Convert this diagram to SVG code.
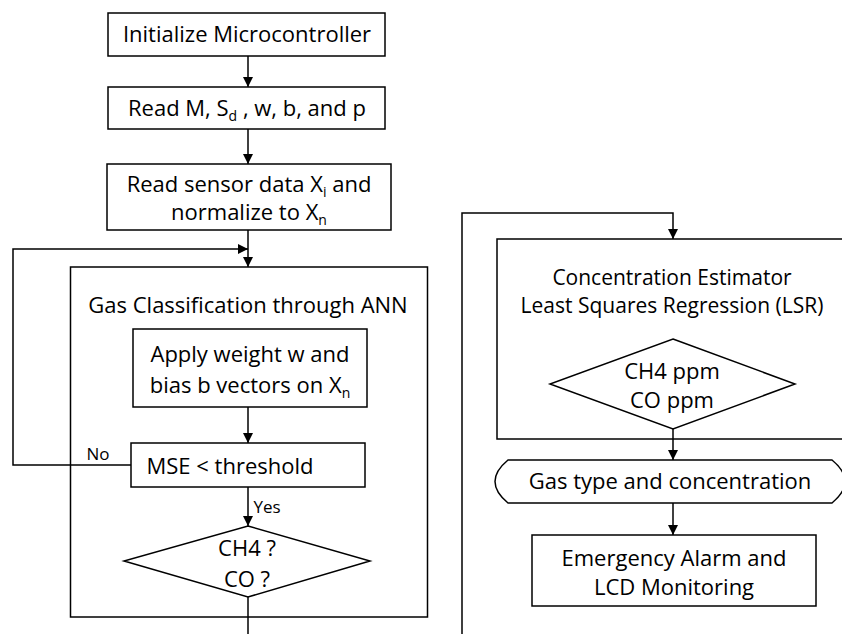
<svg xmlns="http://www.w3.org/2000/svg" width="842" height="634" viewBox="0 0 842 634">
<defs>
<marker id="ah" viewBox="0 0 10 10" refX="10" refY="5" markerWidth="10" markerHeight="10" markerUnits="userSpaceOnUse" orient="auto">
<path d="M0,0 L10,5 L0,10 z" fill="#000"/>
</marker>
<style>
.s{fill:#fff;stroke:#000;stroke-width:1.5}
.o{fill:none;stroke:#000;stroke-width:1.5}
.c{fill:none;stroke:#000;stroke-width:1.5}
.a{marker-end:url(#ah)}
text{font-family:"Open Sans","Liberation Sans",sans-serif;font-size:22px;fill:#000;text-anchor:middle}
.t2{font-size:21px}
.sm{font-size:17px}
.sub{font-size:14px}
</style>
</defs>
<rect width="842" height="634" fill="#fff"/>

<g id="outerANN"><rect class="o" x="70.5" y="267" width="357" height="350"/>
<text x="248" y="313">Gas Classification through ANN</text></g>
<g id="outerLSR"><rect class="o" x="497" y="239" width="350" height="200"/>
<text class="t2" x="672" y="285">Concentration Estimator</text>
<text class="t2" x="672" y="313">Least Squares Regression (LSR)</text></g>

<g id="connectors">
<line class="c a" x1="248" y1="56" x2="248" y2="87"/>
<line class="c a" x1="248" y1="129" x2="248" y2="164"/>
<line class="c a" x1="248" y1="230" x2="248" y2="267"/>
<polyline class="c a" points="131,465 13,465 13,249 248,249"/>
<line class="c a" x1="248" y1="407" x2="248" y2="443"/>
<line class="c a" x1="248" y1="487" x2="248" y2="526"/>
<line class="c" x1="248" y1="597" x2="248" y2="634"/>
<polyline class="c a" points="462,634 462,213 673,213 673,239"/>
<line class="c a" x1="673" y1="429" x2="673" y2="460"/>
<line class="c a" x1="673" y1="503" x2="673" y2="535"/>
<text class="sm" x="98" y="460">No</text>
<text class="sm" x="267" y="513">Yes</text>
</g>

<g id="init"><rect class="s" x="108" y="13" width="277" height="43"/>
<text x="247" y="42">Initialize Microcontroller</text></g>
<g id="readM"><rect class="s" x="108" y="87" width="277" height="42"/>
<text x="247" y="116">Read M, S<tspan class="sub" dy="5">d</tspan><tspan dy="-5"> , w, b, and p</tspan></text></g>
<g id="readSensor"><rect class="s" x="107" y="164" width="284" height="66"/>
<text x="249" y="192">Read sensor data X<tspan class="sub" dy="5">i</tspan><tspan dy="-5"> and</tspan></text>
<text x="249" y="220">normalize to X<tspan class="sub" dy="5">n</tspan></text></g>
<g id="apply"><rect class="s" x="133" y="329" width="234" height="78"/>
<text x="250" y="362">Apply weight w and</text>
<text x="250" y="393">bias b vectors on X<tspan class="sub" dy="5">n</tspan></text></g>
<g id="mse"><rect class="s" x="131" y="443" width="234" height="44"/>
<text x="230" y="474">MSE &lt; threshold</text></g>
<g id="decision1"><polygon class="s" points="248,526 370,561 248,597 124,561"/>
<text x="247" y="556">CH4 ?</text>
<text x="247" y="587">CO ?</text></g>
<g id="decision2"><polygon class="s" points="673,339 795,384 673,429 550,384"/>
<text x="672" y="379">CH4 ppm</text>
<text x="672" y="408">CO ppm</text></g>
<g id="gasType"><path class="s" d="M508,460 H832 Q858,481.5 832,503 H508 Q482,481.5 508,460 Z"/>
<text x="670" y="489">Gas type and concentration</text></g>
<g id="alarm"><rect class="s" x="532" y="535" width="284" height="71"/>
<text x="674" y="566">Emergency Alarm and</text>
<text x="674" y="595">LCD Monitoring</text></g>
</svg>
